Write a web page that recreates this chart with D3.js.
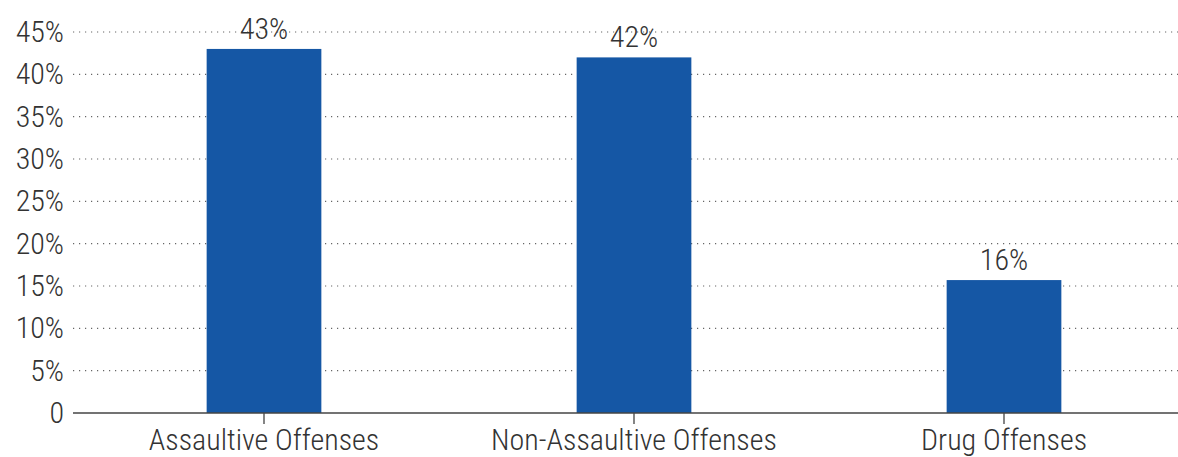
<!doctype html>
<html>
<head>
<meta charset="utf-8">
<title>Offenses</title>
<script src="https://cdn.jsdelivr.net/npm/d3@7"></script>
<style>
  body { margin: 0; background: #fff; }
  text { font-family: "Liberation Sans Narrow", "Roboto Condensed", "DejaVu Sans Condensed", sans-serif; font-stretch: condensed; font-weight: 300; fill: #333; }
</style>
</head>
<body>
<script>
// data
var categories = ["Assaultive Offenses", "Non-Assaultive Offenses", "Drug Offenses"];
var shares = [43, 42, 15.7];
var yTicks = [0, 5, 10, 15, 20, 25, 30, 35, 40, 45];

var w = 1178, h = 457;
var axisLeft = 73, axisY = 413, topY = 32;

var svg = d3.select("body").append("svg").attr("width", w).attr("height", h);

var x = d3.scaleBand().domain(categories).range([79, 1189])
  .paddingInner(0.69).paddingOuter(0.345);
var y = d3.scaleLinear().domain([0, 45]).range([axisY, topY]);

// gridlines
svg.append("g").selectAll("line")
  .data(yTicks.filter(function(d){ return d > 0; }))
  .enter().append("line")
  .attr("x1", axisLeft).attr("x2", w)
  .attr("y1", function(d){ return y(d); })
  .attr("y2", function(d){ return y(d); })
  .attr("stroke", "#666")
  .attr("stroke-width", 1.2)
  .attr("stroke-dasharray", "1.2,4.8");

// y labels
var yAxis = d3.axisLeft(y).tickValues(yTicks).tickSize(0).tickPadding(0)
  .tickFormat(function(d){ return d === 0 ? "0" : d + "%"; });
var gy = svg.append("g").attr("transform", "translate(64,0)").call(yAxis);
gy.select(".domain").remove();
gy.selectAll("text").attr("font-size", 30).attr("fill", "#333")
  .style("font-family", null);

// bars
svg.append("g").selectAll("rect")
  .data(shares)
  .enter().append("rect")
  .attr("x", function(d, i){ return x(categories[i]); })
  .attr("width", x.bandwidth())
  .attr("y", function(d){ return y(d); })
  .attr("height", function(d){ return axisY - y(d); })
  .attr("fill", "#1557a5");

// value labels
svg.append("g").selectAll("text")
  .data(shares)
  .enter().append("text")
  .attr("x", function(d, i){ return x(categories[i]) + x.bandwidth() / 2; })
  .attr("y", function(d){ return y(d) - 10; })
  .attr("text-anchor", "middle")
  .attr("font-size", 30)
  .text(function(d){ return d3.format(".0f")(d) + "%"; });

// x axis
var xAxis = d3.axisBottom(x).tickSize(11).tickPadding(5).tickSizeOuter(0);
var gx = svg.append("g").attr("transform", "translate(0," + axisY + ")").call(xAxis);
gx.select(".domain").remove();
gx.append("line").attr("x1", axisLeft).attr("x2", w).attr("y1", 0).attr("y2", 0)
  .attr("stroke", "#444").attr("stroke-width", 1.5);
gx.selectAll(".tick line").attr("stroke", "#333").attr("stroke-width", 1.2);
gx.selectAll("text").attr("font-size", 30).attr("fill", "#333")
  .style("font-family", null);
</script>
</body>
</html>
